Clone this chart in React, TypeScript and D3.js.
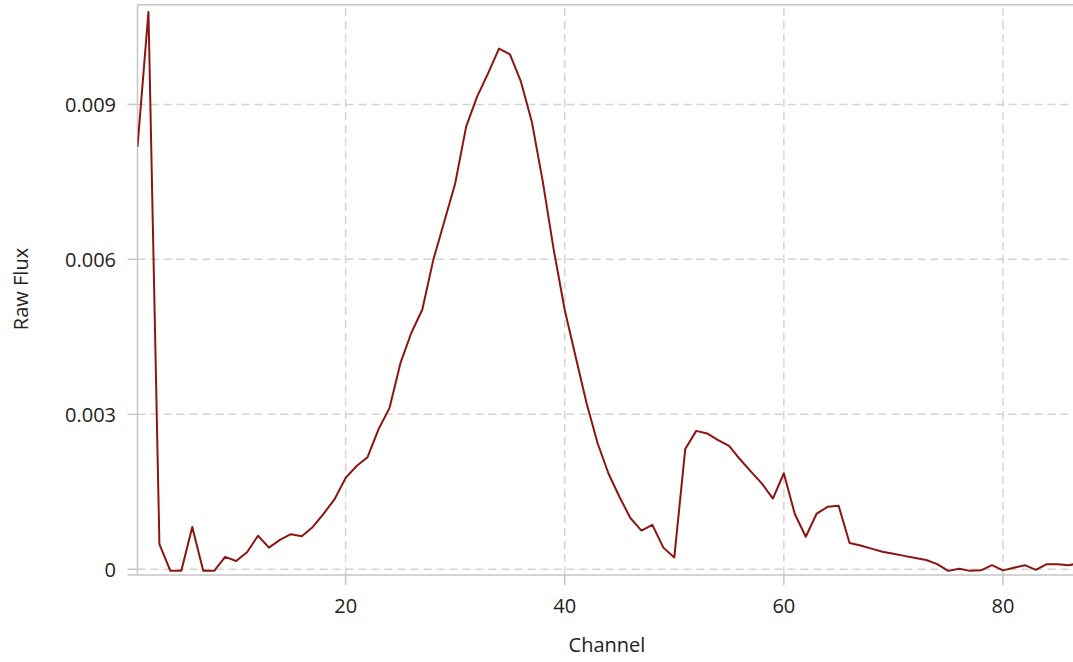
import React from "react";
import * as d3 from "d3";

const channels: number[] = Array.from({ length: 87 }, (_, i) => i + 1);
const rawFlux: number[] = [
  0.00818, 0.01079, 0.00049, -0.00003, -0.00003, 0.00082, -0.00003, -0.00003, 0.00024, 0.00016,
  0.00033, 0.00065, 0.00042, 0.00057, 0.00068, 0.00064, 0.00082, 0.00108, 0.00136, 0.00177,
  0.0020, 0.00217, 0.00271, 0.00312, 0.00399, 0.00458, 0.00503, 0.00599, 0.00673, 0.00747,
  0.00857, 0.00915, 0.0096, 0.01008, 0.00997, 0.00944, 0.00866, 0.0075, 0.00618, 0.00502,
  0.00411, 0.00321, 0.00244, 0.00185, 0.0014, 0.00099, 0.00075, 0.00086, 0.00042, 0.00023,
  0.00233, 0.00268, 0.00263, 0.0025, 0.00239, 0.00213, 0.00189, 0.00166, 0.00137, 0.00186,
  0.00107, 0.00063, 0.00108, 0.00121, 0.00123, 0.00051, 0.00046, 0.0004, 0.00034, 0.0003,
  0.00026, 0.00022, 0.00018, 0.0001, -0.00003, 0.00001, -0.00003, -0.00002, 0.00008, -0.00002,
  0.00003, 0.00008, -0.00001, 0.0001, 0.0001, 0.00008, 0.00012,
];
const xTicks: number[] = [20, 40, 60, 80];
const yTicks: number[] = [0, 0.003, 0.006, 0.009];
const yTickLabels: string[] = ["0", "0.003", "0.006", "0.009"];

const W = 1073;
const H = 662;
const left = 137.5;
const right = 137.5 + 86 * 10.955;
const top = 4.7;
const bottom = 575;
const FONT = "'Segoe UI', 'Open Sans', 'Noto Sans', sans-serif";
const GRID = "#d4d4d4";
const AXIS = "#c6c6c6";
const TEXT = "#222";

export default function App() {
  const x = d3.scaleLinear().domain([1, 87]).range([left, right]);
  const y = d3.scaleLinear().domain([-0.00011, 0.01093]).range([bottom, top]);
  const pts: [number, number][] = channels.map((c, i) => [c, rawFlux[i]]);
  const line = d3
    .line<[number, number]>()
    .x((d) => x(d[0]))
    .y((d) => y(d[1]));

  return (
    <svg
      width={W}
      height={H}
      style={{ position: "absolute", left: 0, top: 0, display: "block", background: "#fff" }}
    >
      <defs>
        <clipPath id="plotclip">
          <rect x={left} y={top} width={right - left} height={bottom - top} />
        </clipPath>
      </defs>
      {/* grid */}
      {yTicks.map((t) => (
        <line
          key={"gy" + t}
          x1={left}
          x2={right}
          y1={y(t)}
          y2={y(t)}
          stroke={GRID}
          strokeWidth={1.5}
          strokeDasharray="8 5"
        />
      ))}
      {xTicks.map((t) => (
        <line
          key={"gx" + t}
          x1={x(t)}
          x2={x(t)}
          y1={bottom}
          y2={top}
          stroke={GRID}
          strokeWidth={1.5}
          strokeDasharray="8 5"
        />
      ))}
      {/* frame */}
      <line x1={left} x2={right} y1={top} y2={top} stroke={AXIS} strokeWidth={1.5} />
      <line x1={left} x2={left} y1={top} y2={bottom} stroke={AXIS} strokeWidth={1.5} />
      <line x1={left - 10} x2={right} y1={bottom} y2={bottom} stroke={AXIS} strokeWidth={1.5} />
      {/* ticks */}
      {yTicks.map((t) => (
        <line key={"ty" + t} x1={left - 10} x2={left} y1={y(t)} y2={y(t)} stroke={AXIS} strokeWidth={1.5} />
      ))}
      {xTicks.map((t) => (
        <line key={"tx" + t} x1={x(t)} x2={x(t)} y1={bottom} y2={bottom + 10} stroke={AXIS} strokeWidth={1.5} />
      ))}
      {/* data */}
      <path
        d={line(pts) || ""}
        fill="none"
        stroke="#8e1414"
        strokeWidth={2}
        strokeLinejoin="round"
        clipPath="url(#plotclip)"
      />
      {/* labels */}
      {yTicks.map((t, i) => (
        <text
          key={"ly" + t}
          x={116}
          y={y(t) + 8}
          textAnchor="end"
          fontFamily={FONT}
          fontSize={20}
          fill={TEXT}
        >
          {yTickLabels[i]}
        </text>
      ))}
      {xTicks.map((t) => (
        <text
          key={"lx" + t}
          x={x(t)}
          y={613}
          textAnchor="middle"
          fontFamily={FONT}
          fontSize={20}
          fill={TEXT}
        >
          {t}
        </text>
      ))}
      <text x={607} y={652} textAnchor="middle" fontFamily={FONT} fontSize={20} fill={TEXT}>
        Channel
      </text>
      <text
        transform={`translate(28, 289) rotate(-90)`}
        textAnchor="middle"
        fontFamily={FONT}
        fontSize={20}
        fill={TEXT}
      >
        Raw Flux
      </text>
    </svg>
  );
}
